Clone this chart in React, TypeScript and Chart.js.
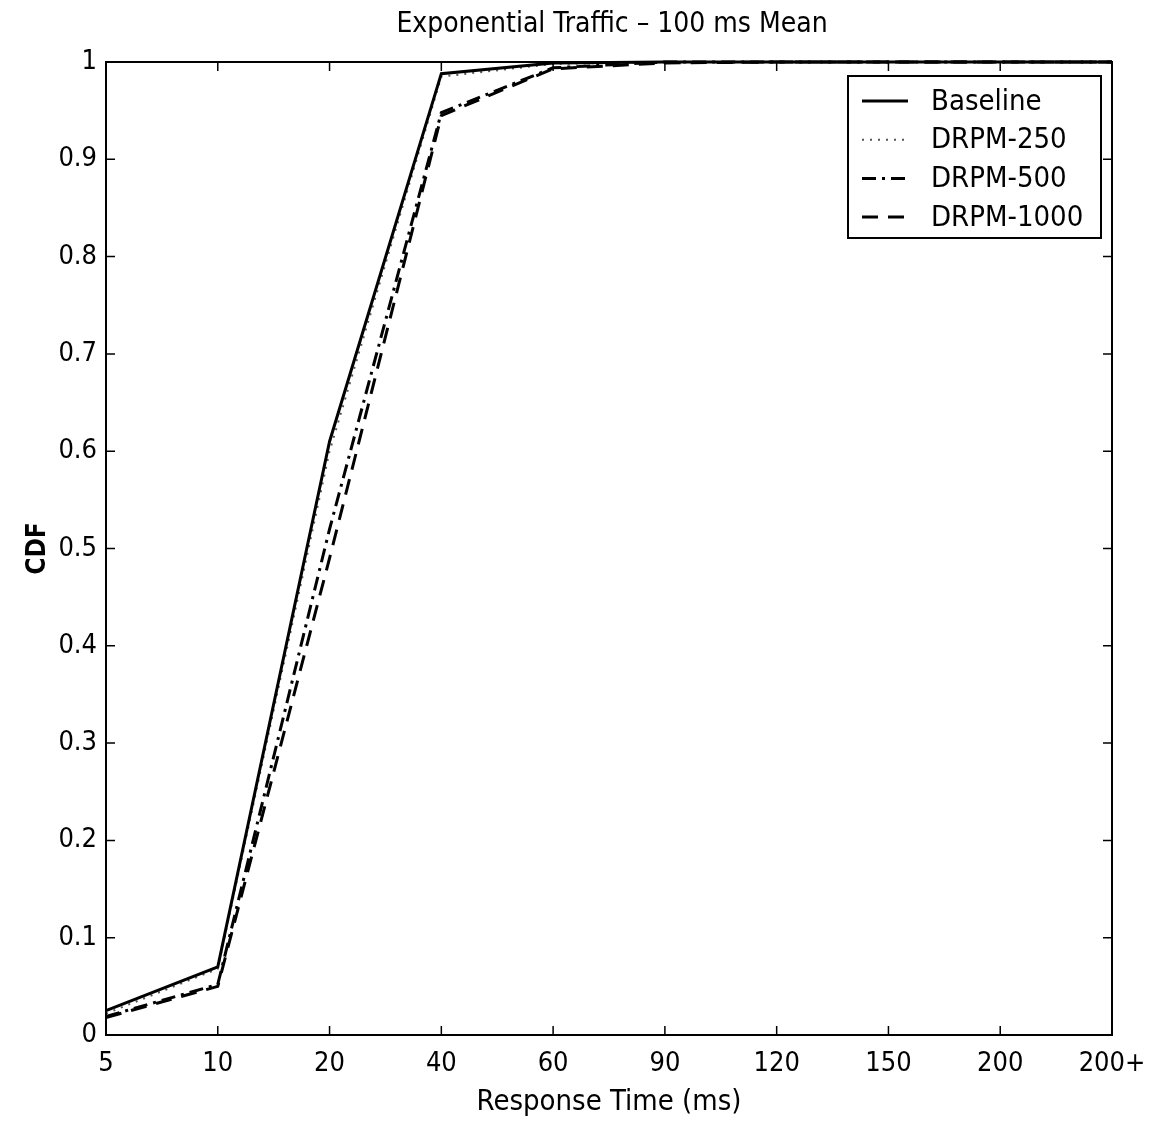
import React, { useEffect, useRef } from "react";
import { Chart, registerables } from "chart.js";

Chart.register(...registerables);

const categories = ["5", "10", "20", "40", "60", "90", "120", "150", "200", "200+"];
const baseline = [0.025, 0.07, 0.61, 0.988, 0.999, 1, 1, 1, 1, 1];
const drpm250 = [0.022, 0.068, 0.6, 0.985, 0.998, 1, 1, 1, 1, 1];
const drpm500 = [0.019, 0.052, 0.52, 0.948, 0.994, 1, 1, 1, 1, 1];
const drpm1000 = [0.018, 0.05, 0.49, 0.945, 0.993, 0.999, 1, 1, 1, 1];
const seriesNames = ["Baseline", "DRPM-250", "DRPM-500", "DRPM-1000"];
const yTicks = [0, 0.1, 0.2, 0.3, 0.4, 0.5, 0.6, 0.7, 0.8, 0.9, 1];
const chartTitle = "Exponential Traffic – 100 ms Mean";

const FONT = "'Liberation Sans Narrow', 'DejaVu Sans Condensed', 'Liberation Sans', sans-serif";

const framePlugin = {
  id: "frameTicks",
  afterDatasetsDraw(chart: any) {
    const { ctx, chartArea } = chart;
    const { left, right, top, bottom } = chartArea;
    const xs = chart.scales.x;
    const ys = chart.scales.y;
    ctx.save();
    // title centred over the plot area
    ctx.fillStyle = "#000";
    ctx.font = `28px ${FONT}`;
    ctx.textAlign = "center";
    ctx.textBaseline = "middle";
    ctx.fillText(chartTitle, (left + right) / 2 + 3, 25);

    ctx.strokeStyle = "#000";
    ctx.lineWidth = 2;
    ctx.setLineDash([]);
    ctx.strokeRect(left, top, right - left, bottom - top);
    ctx.lineWidth = 1.5;
    const tl = 9;
    categories.forEach((_, i) => {
      const x = xs.getPixelForValue(i);
      ctx.beginPath();
      ctx.moveTo(x, bottom);
      ctx.lineTo(x, bottom - tl);
      ctx.moveTo(x, top);
      ctx.lineTo(x, top + tl);
      ctx.stroke();
    });
    yTicks.forEach((v) => {
      const y = ys.getPixelForValue(v);
      ctx.beginPath();
      ctx.moveTo(left, y);
      ctx.lineTo(left + tl, y);
      ctx.moveTo(right, y);
      ctx.lineTo(right - tl, y);
      ctx.stroke();
    });

    // legend
    const bx = 848, by = 76, bw = 253, bh = 162;
    ctx.fillStyle = "#fff";
    ctx.fillRect(bx, by, bw, bh);
    ctx.lineWidth = 2;
    ctx.strokeRect(bx, by, bw, bh);
    ctx.font = `29px ${FONT}`;
    ctx.textBaseline = "middle";
    ctx.textAlign = "left";
    chart.data.datasets.forEach((ds: any, i: number) => {
      const y = 101 + i * 38.7;
      ctx.strokeStyle = ds.borderColor;
      ctx.lineWidth = ds.borderWidth;
      ctx.setLineDash(ds.borderDash || []);
      ctx.beginPath();
      ctx.moveTo(862, y);
      ctx.lineTo(908, y);
      ctx.stroke();
      ctx.setLineDash([]);
      ctx.fillStyle = "#000";
      ctx.fillText(ds.label, 931, y + 1);
    });
    ctx.restore();
  },
};

export default function App() {
  const ref = useRef<HTMLCanvasElement | null>(null);
  useEffect(() => {
    document.body.style.margin = "0";
    const canvas = ref.current!;
    const chart = new Chart(canvas, {
      type: "line",
      data: {
        labels: categories,
        datasets: [
          { label: seriesNames[0], data: baseline, borderColor: "#000", borderWidth: 3, borderDash: [] },
          { label: seriesNames[1], data: drpm250, borderColor: "#555", borderWidth: 2, borderDash: [2, 6] },
          { label: seriesNames[2], data: drpm500, borderColor: "#000", borderWidth: 3, borderDash: [14, 6, 3, 6] },
          { label: seriesNames[3], data: drpm1000, borderColor: "#000", borderWidth: 3, borderDash: [16, 10] },
        ].map((d) => ({ ...d, pointRadius: 0, tension: 0, fill: false, clip: false as any })),
      },
      options: {
        animation: false,
        responsive: false,
        maintainAspectRatio: false,
        layout: { padding: { left: 0, right: 53, top: 62, bottom: 0 } },
        plugins: {
          legend: { display: false },
          tooltip: { enabled: false },
          title: { display: false },
        },
        scales: {
          x: {
            type: "category",
            offset: false,
            grid: { display: false, drawTicks: false },
            border: { display: false },
            ticks: { color: "#000", font: { family: FONT, size: 27 }, padding: 13, maxRotation: 0, autoSkip: false },
            title: {
              display: true,
              text: "Response Time (ms)",
              color: "#000",
              font: { family: FONT, size: 29 },
              padding: { top: 2, bottom: 3 },
            },
            afterFit: (s: any) => {
              s.height = 88;
            },
          },
          y: {
            min: 0,
            max: 1,
            grid: { display: false, drawTicks: false },
            border: { display: false },
            ticks: {
              color: "#000",
              font: { family: FONT, size: 27 },
              padding: 9,
              stepSize: 0.1,
              callback: (v: any) => String(Math.round(Number(v) * 10) / 10),
            },
            title: {
              display: true,
              text: "CDF",
              color: "#000",
              font: { family: FONT, size: 26, weight: "bold" },
              padding: { top: 23, bottom: 0 },
            },
            afterFit: (s: any) => {
              s.width = 106;
            },
          },
        },
      },
      plugins: [framePlugin],
    });
    return () => chart.destroy();
  }, []);
  return (
    <div style={{ position: "absolute", left: 0, top: 0, width: 1165, height: 1123, background: "#fff" }}>
      <canvas ref={ref} width={1165} height={1123} style={{ width: 1165, height: 1123, display: "block" }} />
    </div>
  );
}
